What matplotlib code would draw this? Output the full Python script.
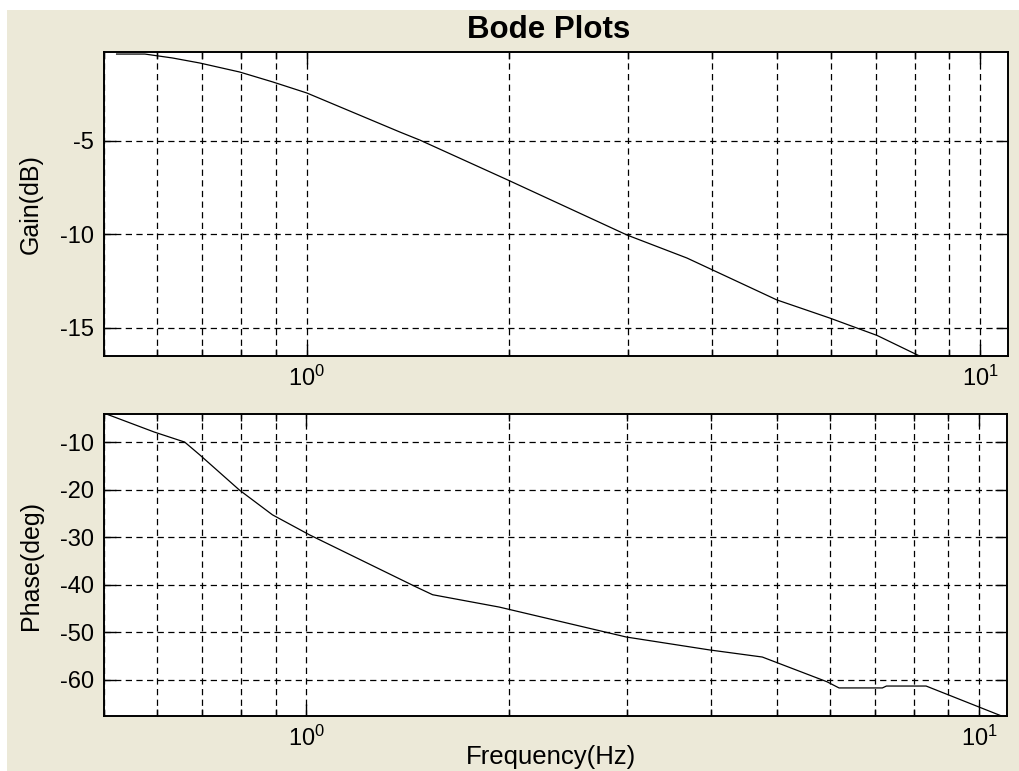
import matplotlib
matplotlib.use("Agg")
import matplotlib.pyplot as plt
from matplotlib.patches import Rectangle
from matplotlib.ticker import LogLocator, FixedLocator, NullFormatter

# ------------------------------
# Datos: ganancia y fase
# ------------------------------
freq_gain = [0.522, 0.575, 0.632, 0.694, 0.795, 0.890, 1.0, 1.375, 1.472,
             1.99, 2.99, 3.67, 4.99, 5.98, 7.03, 8.13]
gain_db = [-0.35, -0.35, -0.56, -0.83, -1.31, -1.84, -2.43, -4.52, -4.95,
           -7.09, -10.03, -11.26, -13.5, -14.47, -15.4, -16.5]

freq_phase = [0.504, 0.594, 0.659, 0.694, 0.795, 0.890, 1.01, 1.457, 1.54,
              1.935, 2.99, 3.97, 4.76, 5.94, 6.19, 7.18, 7.28, 8.34, 10.8]
phase_deg = [-4.1, -7.9, -10.0, -12.7, -20.1, -25.3, -29.5, -40.5, -42.1,
             -44.7, -51.0, -53.7, -55.2, -60.4, -61.7, -61.7, -61.3, -61.3, -67.6]

gain_ticks = [-15, -10, -5]
phase_ticks = [-60, -50, -40, -30, -20, -10]

plt.rcParams["font.family"] = ["Liberation Sans", "DejaVu Sans"]
plt.rcParams["axes.unicode_minus"] = False
plt.rcParams["mathtext.default"] = "regular"

fondo = "#ECE9D8"

fig = plt.figure(figsize=(10.19, 7.71), dpi=100, facecolor="white")
fig.patches.append(Rectangle((7 / 1019, 0), 1, (771 - 10) / 771,
                             transform=fig.transFigure, facecolor=fondo,
                             edgecolor="none", zorder=-10))

ax1 = fig.add_axes([104 / 1019, (771 - 356) / 771, 904 / 1019, 304 / 771])
ax2 = fig.add_axes([104 / 1019, (771 - 716) / 771, 903 / 1019, 302 / 771])


def estilo(ax, yticks):
    ax.set_xscale("log")
    ax.set_xlim(0.5, 11)
    ax.xaxis.set_major_locator(FixedLocator([1, 10]))
    ax.xaxis.set_minor_locator(LogLocator(base=10, subs=range(2, 10), numticks=10))
    ax.xaxis.set_minor_formatter(NullFormatter())
    ax.set_yticks(yticks)
    ax.tick_params(which="both", direction="in", top=True, right=True,
                   labelsize=17, pad=7, width=1.0, color="black")
    ax.tick_params(which="major", length=8.5)
    ax.tick_params(which="minor", length=5)
    for s in ax.spines.values():
        s.set_linewidth(1.4)
    ax.grid(True, which="major", axis="both", color="black",
            linestyle=(0, (5, 3.5)), linewidth=0.9)
    ax.grid(True, which="minor", axis="x", color="black",
            linestyle=(0, (5, 3.5)), linewidth=0.9)
    ax.set_axisbelow(True)
    ax.set_facecolor("white")


# ------------------------------
# Ganancia
# ------------------------------
ax1.plot(freq_gain, gain_db, color="black", linewidth=0.9)
estilo(ax1, gain_ticks)
ax1.set_ylim(-16.5, -0.24)
ax1.set_ylabel("Gain(dB)", fontsize=18)
ax1.yaxis.set_label_coords(-0.068, 0.5)
ax1.set_title("Bode Plots", fontsize=22.5, fontweight="bold", pad=10, x=0.492)

# ------------------------------
# Fase
# ------------------------------
ax2.plot(freq_phase, phase_deg, color="black", linewidth=0.9)
estilo(ax2, phase_ticks)
ax2.set_ylim(-67.6, -4.1)
ax2.set_ylabel("Phase(deg)", fontsize=18)
ax2.yaxis.set_label_coords(-0.068, 0.5)
ax2.set_xlabel("Frequency(Hz)", fontsize=18.5)
ax2.xaxis.set_label_coords(0.495, -0.096)

fig.savefig("out.png", dpi=100, facecolor=fig.get_facecolor())
